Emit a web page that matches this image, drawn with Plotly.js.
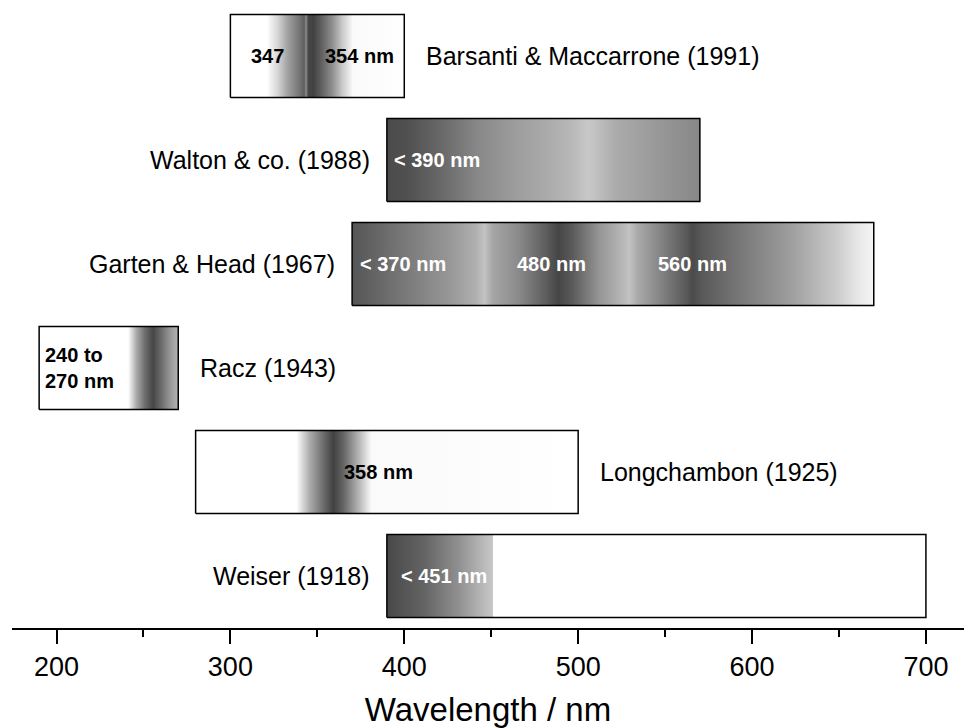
<!DOCTYPE html>
<html><head><meta charset="utf-8">
<script src="https://cdn.plot.ly/plotly-3.0.1.min.js"></script>
<style>html,body{margin:0;padding:0;background:#fff;overflow:hidden}#chart{width:964px;height:728px}</style>
</head><body><div id="chart"></div>
<script>
// ---- data (top to bottom) ----
const studies = ['Barsanti & Maccarrone (1991)', 'Walton & co. (1988)', 'Garten & Head (1967)', 'Racz (1943)', 'Longchambon (1925)', 'Weiser (1918)'];
const rangeStartNm = [300, 390, 370, 190, 280, 390];
const rangeEndNm   = [400, 570, 670, 270, 500, 700];

// gradient stops: wavelength (nm) and gray level (0 black .. 255 white)
const barsantiNm   = [300, 321, 327.1, 333.1, 339.2, 342.5, 343.5, 344.8, 347.7, 352.2, 358.3, 364.3, 370.4, 400];
const barsantiGray = [255, 255, 215, 160, 120, 95, 140, 70, 65, 95, 140, 200, 250, 255];
const waltonNm     = [390, 401.6, 421.7, 441.8, 461.9, 482.1, 497.2, 505.2, 509.2, 522.3, 542.4, 570];
const waltonGray   = [75, 80, 105, 135, 155, 170, 185, 200, 195, 170, 155, 135];
const gartenNm     = [370, 395.5, 425.3, 441.2, 446.1, 451.1, 465, 480.8, 488.7, 496.6, 512.4, 526.3, 529.2, 534.2, 548.1, 561.9, 565.8, 571.8, 593.7, 623.3, 647.1, 662.9, 670];
const gartenGray   = [85, 115, 150, 175, 195, 165, 140, 95, 70, 90, 150, 185, 195, 170, 130, 90, 75, 90, 120, 160, 200, 235, 245];
const raczNm       = [190, 241.2, 246, 250.8, 255.6, 260.5, 265.3, 270];
const raczGray     = [255, 255, 170, 110, 70, 110, 150, 180];
const longchambonNm   = [280, 337.9, 345.8, 353.3, 359.2, 364.9, 372.6, 381.2, 500];
const longchambonGray = [255, 255, 170, 110, 65, 100, 170, 250, 255];
const weiserNm     = [390, 411.6, 431.7, 451, 451, 700];
const weiserGray   = [72, 100, 145, 200, 255, 255];

// labels inside the bars
const innerText  = ['347', '354 nm', '< 390 nm', '< 370 nm', '480 nm', '560 nm', '240 to<br>270 nm', '358 nm', '< 451 nm'];
const innerNm    = [321.6, 374.2, 418.8, 399.3, 484.4, 565.9, 213.2, 385.2, 422.8];
const innerStudy = [0, 0, 1, 2, 2, 2, 3, 4, 5];

const xTicks = [200, 300, 400, 500, 600, 700];
const xMinorTicks = [250, 350, 450, 550, 650];

// ---- styling / layout ----
const FONT = 'Liberation Sans, Arial, Helvetica, sans-serif';
const gradNm = [barsantiNm, waltonNm, gartenNm, raczNm, longchambonNm, weiserNm];
const gradGray = [barsantiGray, waltonGray, gartenGray, raczGray, longchambonGray, weiserGray];
const labelOnRight = [true, false, false, true, true, false];
const innerWhite = [false, false, true, true, true, true, false, false, true];
const n = studies.length;
const half = 0.4;

const traces = studies.map((name, i) => {
  const row = n - 1 - i;
  const s = rangeStartNm[i], e = rangeEndNm[i];
  const cs = gradNm[i].map((nm, k) => {
    let p = (nm - s) / (e - s);
    if (k === 0) p = 0;
    if (k === gradNm[i].length - 1) p = 1;
    const g = gradGray[i][k];
    return [p, `rgb(${g},${g},${g})`];
  });
  return {
    type: 'scatter', mode: 'lines', name,
    x: [s, e, e, s, s],
    y: [row - half, row - half, row + half, row + half, row - half],
    fill: 'toself',
    fillgradient: {type: 'horizontal', start: s, stop: e, colorscale: cs},
    line: {color: '#000', width: 1.5},
    hoverinfo: 'skip', showlegend: false
  };
});

const annotations = [];
studies.forEach((name, i) => {
  const row = n - 1 - i;
  const right = labelOnRight[i];
  annotations.push({
    x: right ? rangeEndNm[i] : rangeStartNm[i], y: row,
    xref: 'x', yref: 'y', text: name, showarrow: false,
    xanchor: right ? 'left' : 'right', yanchor: 'middle',
    xshift: right ? 20 : -15,
    font: {family: FONT, size: 25, color: '#000'}
  });
});
innerText.forEach((t, j) => {
  const row = n - 1 - innerStudy[j];
  annotations.push({
    x: innerNm[j], y: row, xref: 'x', yref: 'y', text: t, showarrow: false,
    xanchor: 'center', yanchor: 'middle', align: 'left',
    font: {family: FONT, size: 20, weight: 'bold', color: innerWhite[j] ? '#fff' : '#000'}
  });
});

const layout = {
  width: 964, height: 728,
  margin: {l: 12, r: 0, t: 4, b: 100, pad: 0},
  paper_bgcolor: '#fff', plot_bgcolor: '#fff',
  showlegend: false,
  xaxis: {
    range: [174.4, 721.9],
    tickvals: xTicks, ticktext: xTicks.map(String),
    ticks: 'outside', ticklen: 14, tickwidth: 2, tickcolor: '#000',
    minor: {tickvals: xMinorTicks, ticks: 'outside', ticklen: 7, tickwidth: 2, tickcolor: '#000'},
    showline: true, linewidth: 2, linecolor: '#000',
    showgrid: false, zeroline: false,
    tickfont: {family: FONT, size: 27, color: '#000'},
    title: {text: 'Wavelength / nm', font: {family: FONT, size: 33, color: '#000'}, standoff: 16},
    fixedrange: true
  },
  yaxis: {range: [-0.5, 5.5], visible: false, fixedrange: true},
  annotations
};

Plotly.newPlot('chart', traces, layout, {displayModeBar: false, staticPlot: true});
</script></body></html>
